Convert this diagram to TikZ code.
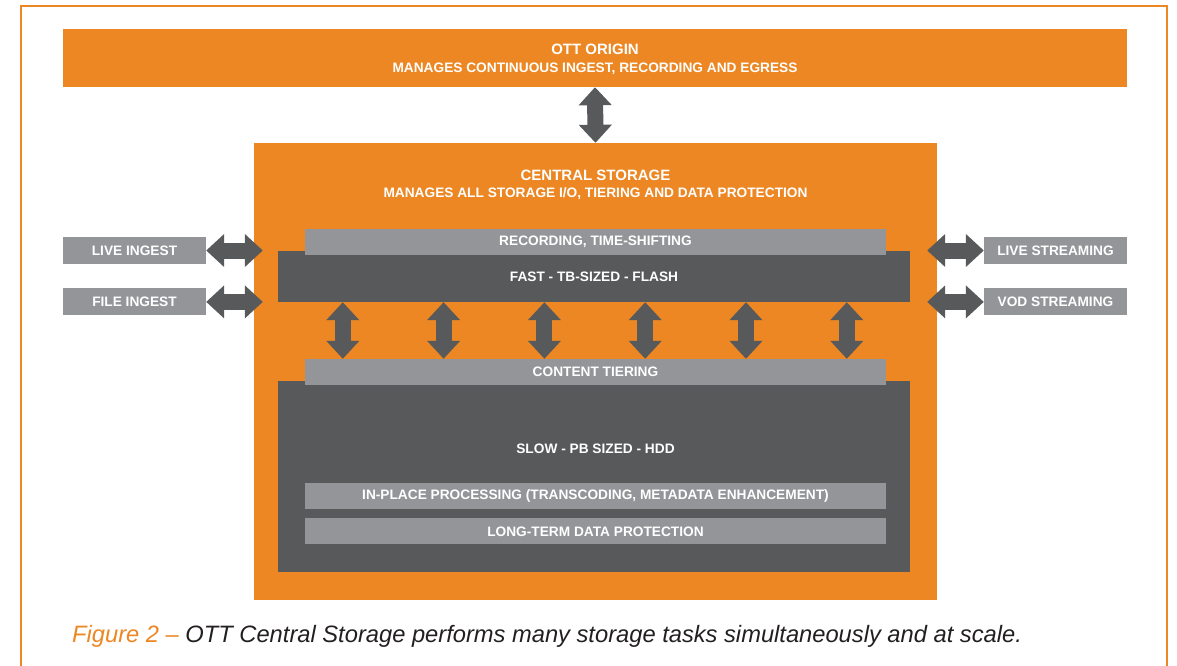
\documentclass[tikz,border=0pt]{standalone}
\usepackage{fontspec}
\setmainfont{Liberation Sans}
\usetikzlibrary{positioning, arrows.meta, calc}
\definecolor{ottorange}{HTML}{EC8723}
\definecolor{ottdark}{HTML}{58595B}
\definecolor{ottgray}{HTML}{939598}
\definecolor{otttext}{HTML}{231F20}
\newcommand{\titlefont}{\bfseries\fontsize{15}{18}\selectfont}
\tikzset{
	x=1pt, y=-1pt, % one unit is one pixel of the layout, y runs downwards
	box/.style={inner sep=0pt, text=white, font=\bfseries\fontsize{13.7}{16}\selectfont}, % every filled block
	orangebox/.style={box, fill=ottorange},
	darkbox/.style={box, fill=ottdark},
	graybox/.style={box, fill=ottgray, minimum width=581pt, minimum height=26pt},
	sidebox/.style={box, fill=ottgray, minimum width=143pt, minimum height=27pt},
	fatarrow/.style={draw=ottdark, line width=16pt, {Triangle[width=32pt,length=18pt]}-{Triangle[width=32pt,length=18pt]}}, % the thick two-headed arrows
}
\begin{document}
\begin{tikzpicture}
	\useasboundingbox (0,0) rectangle (1177,666);
	% frame round the figure
	\draw[ottorange, line width=2.2pt] (21,672) -- (21,6) -- (1167,6) -- (1167,672);

	\node[orangebox, minimum width=1064pt, minimum height=58pt] (origin) at (595,58) {};
	\node[box, align=center] (origintitle) at (595,59.5)
		{{\titlefont OTT ORIGIN}\\[1.5pt] MANAGES CONTINUOUS INGEST, RECORDING AND EGRESS};
	\node[orangebox, minimum width=683pt, minimum height=457pt] (central) at (595.5,371.5) {};
	\node[box, align=center, below=27pt of central.north] (centraltitle)
		{{\titlefont CENTRAL STORAGE}\\[1.5pt] MANAGES ALL STORAGE I/O, TIERING AND DATA PROTECTION};

	\node[darkbox, minimum width=632pt, minimum height=51pt] (fast) at (594,276.5) {FAST - TB-SIZED - FLASH};
	\node[graybox] (recording) at (595.5,241.5) {RECORDING, TIME-SHIFTING};
	\node[darkbox, minimum width=632pt, minimum height=191pt] (slow) at (594,476.5) {};
	\node[graybox] (tiering) at (595.5,372) {CONTENT TIERING};
	\node[box, below=59pt of tiering] (slowlabel) {SLOW - PB SIZED - HDD};
	\node[graybox] (processing) at (595.5,496) {IN-PLACE PROCESSING (TRANSCODING, METADATA ENHANCEMENT)};
	\node[graybox, below=9pt of processing] (longterm) {LONG-TERM DATA PROTECTION};

	\node[sidebox] (liveingest) at (134.5,250.5) {LIVE INGEST};
	\node[sidebox, below=24pt of liveingest] (fileingest) {FILE INGEST};
	\node[sidebox] (livestream) at (1055.5,250.5) {LIVE STREAMING};
	\node[sidebox, below=24pt of livestream] (vodstream) {VOD STREAMING};

	\draw[fatarrow] (origin.south) -- (central.north);
	\draw[fatarrow] (liveingest.east) -- ([xshift=9pt]central.west |- liveingest.east);
	\draw[fatarrow] (fileingest.east) -- ([xshift=9pt]central.west |- fileingest.east);
	\draw[fatarrow] (livestream.west) -- ([xshift=-10pt]central.east |- livestream.west);
	\draw[fatarrow] (vodstream.west) -- ([xshift=-10pt]central.east |- vodstream.west);
	\foreach \i in {0,...,5}
		\draw[fatarrow] ([xshift=65pt+\i*100.8pt]fast.south west) -- ([xshift=65pt+\i*100.8pt]fast.south west |- tiering.north);

	\node[anchor=base west, font=\itshape\fontsize{23.7}{27}\selectfont, text=otttext, inner sep=0pt] (caption) at (72,642)
		{\textcolor{ottorange}{Figure 2 –} OTT Central Storage performs many storage tasks simultaneously and at scale.};
\end{tikzpicture}
\end{document}
